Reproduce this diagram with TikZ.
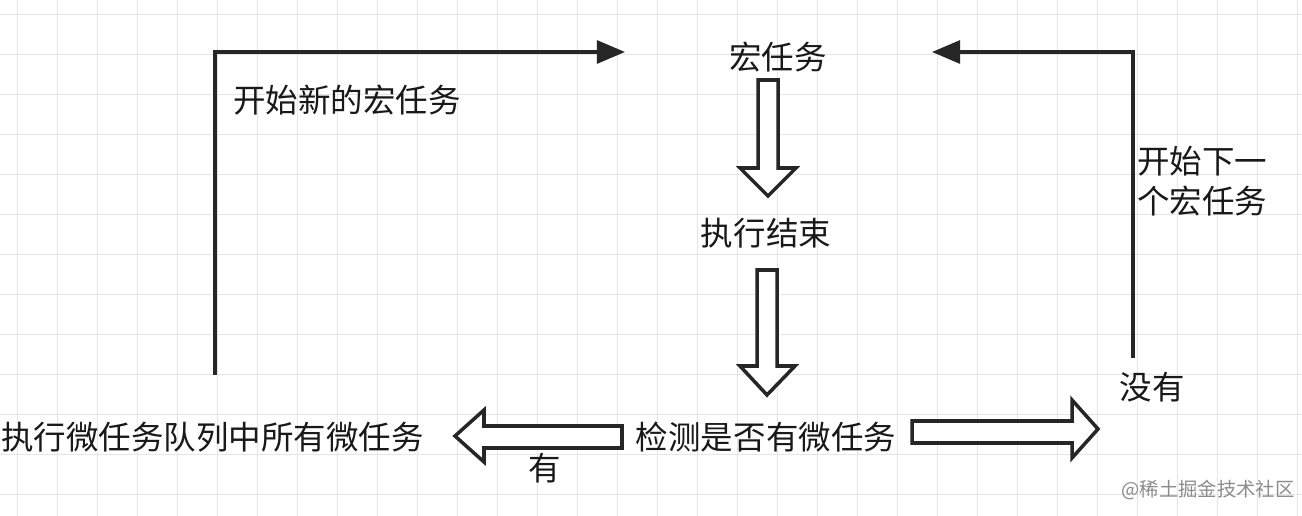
\documentclass[tikz,border=0pt]{standalone}
\usepackage{fontspec}
\setmainfont{Noto Sans CJK SC}
\usetikzlibrary{arrows.meta}
\begin{document}
\begin{tikzpicture}[x=0.02cm,y=-0.02cm,
  lbl/.style={font=\fontsize{18.5}{23}\selectfont, text=black!90, inner sep=0pt},
  conn/.style={line width=2pt, draw=black!85, -{Triangle[length=16pt,width=13pt]}},
  blk/.style={line width=2pt, draw=black!85, fill=white, line join=miter}]
\useasboundingbox (0,0) rectangle (1302,516);
\fill[white] (0,0) rectangle (1302,516);
\foreach \x in {17,57,...,1297} \draw[black!10, line width=0.5pt] (\x,0) -- (\x,516);
\foreach \y in {14,54,...,514} \draw[black!10, line width=0.5pt] (0,\y) -- (1302,\y);
\node[lbl] (macro) at (778,57) {宏任务};
\node[lbl] (done) at (766,233) {执行结束};
\node[lbl] (check) at (766,437) {检测是否有微任务};
\node[lbl, anchor=west] (runall) at (1,437) {执行微任务队列中所有微任务};
\node[lbl] (yes) at (545,468) {有};
\node[lbl] (no) at (1152,387) {没有};
\node[lbl, anchor=west] (startnew) at (233,100) {开始新的宏任务};
\node[lbl, anchor=west, align=left] (startnext) at (1137,181) {开始下一\\个宏任务};
\node[font=\fontsize{11}{13}\selectfont, text=black!45, inner sep=0pt] (wm) at (1208,490) {@稀土掘金技术社区};
\coordinate (lstart) at (215,375);
\coordinate (lend) at (625,52);
\coordinate (rstart) at (1133,358);
\coordinate (rend) at (932,52);
\draw[conn] (lstart) |- (lend);
\draw[conn] (rstart) |- (rend);
% block arrows
\draw[blk] (758,80) -- (778,80) -- (778,168) -- (796,168) -- (768,196) -- (740,168) -- (758,168) -- cycle;
\draw[blk] (757,270) -- (777,270) -- (777,366) -- (795,366) -- (767,395) -- (740,366) -- (757,366) -- cycle;
\draw[blk] (622,426) -- (622,448) -- (484,448) -- (484,462) -- (455,436) -- (484,410) -- (484,426) -- cycle;
\draw[blk] (912,421) -- (912,443) -- (1072,443) -- (1072,458) -- (1098,429) -- (1072,400) -- (1072,421) -- cycle;
\end{tikzpicture}
\end{document}
